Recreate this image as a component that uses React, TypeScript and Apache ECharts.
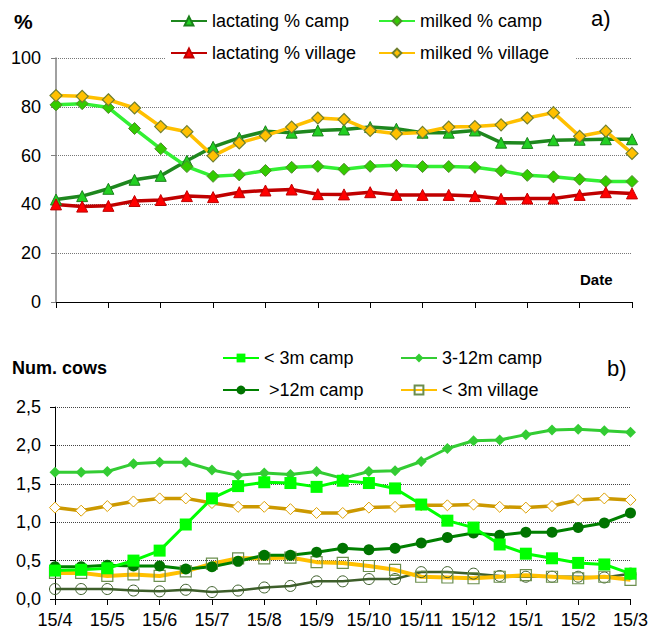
import React, { useEffect, useRef } from "react";
import * as echarts from "echarts";

const dates = [
  "15/4", "30/4", "15/5", "30/5", "15/6", "30/6", "15/7", "30/7", "15/8", "30/8", "15/9", "30/9",
  "15/10", "30/10", "15/11", "30/11", "15/12", "30/12", "15/1", "30/1", "15/2", "28/2", "15/3",
];

// Panel a) — percentages
const lactatingCamp = [42.0, 43.4, 46.4, 50.1, 51.7, 57.9, 63.6, 67.3, 70.0, 69.4, 70.3, 70.7, 71.7, 71.0, 69.4, 69.4, 70.3, 65.3, 65.2, 66.3, 66.5, 66.7, 66.7];
const milkedCamp = [80.8, 81.3, 79.7, 71.1, 62.8, 55.5, 51.5, 52.1, 53.9, 55.2, 55.6, 54.4, 55.6, 56.0, 55.5, 55.5, 55.2, 53.8, 51.9, 51.3, 50.3, 49.4, 49.4];
const lactatingVillage = [40.0, 39.1, 39.4, 41.4, 41.8, 43.4, 43.0, 45.0, 45.7, 46.1, 44.2, 44.1, 45.0, 43.9, 43.9, 43.9, 43.4, 42.3, 42.4, 42.4, 43.9, 45.0, 44.5];
const milkedVillage = [84.6, 84.3, 82.9, 79.5, 71.9, 69.8, 59.9, 65.2, 68.2, 71.7, 75.4, 74.8, 70.3, 69.0, 69.5, 71.7, 71.9, 72.6, 75.4, 77.6, 67.9, 70.0, 60.9];

// Panel b) — number of cows
const under3Camp = [0.37, 0.38, 0.40, 0.50, 0.63, 0.97, 1.31, 1.47, 1.52, 1.51, 1.46, 1.54, 1.51, 1.44, 1.23, 1.02, 0.93, 0.71, 0.59, 0.53, 0.47, 0.45, 0.33];
const m3to12Camp = [1.65, 1.65, 1.66, 1.76, 1.78, 1.78, 1.68, 1.61, 1.64, 1.62, 1.66, 1.57, 1.66, 1.67, 1.79, 1.96, 2.06, 2.07, 2.14, 2.20, 2.21, 2.19, 2.17];
const over12Camp = [0.42, 0.42, 0.44, 0.43, 0.43, 0.39, 0.42, 0.49, 0.57, 0.57, 0.61, 0.66, 0.64, 0.66, 0.73, 0.80, 0.86, 0.83, 0.87, 0.87, 0.93, 0.99, 1.12];
const under3Village = [0.34, 0.34, 0.30, 0.32, 0.30, 0.36, 0.46, 0.53, 0.53, 0.54, 0.48, 0.47, 0.43, 0.38, 0.29, 0.28, 0.27, 0.29, 0.31, 0.29, 0.27, 0.29, 0.25];
const m3to12Village = [1.19, 1.15, 1.21, 1.27, 1.31, 1.31, 1.25, 1.20, 1.20, 1.17, 1.12, 1.12, 1.19, 1.20, 1.22, 1.22, 1.23, 1.20, 1.19, 1.21, 1.29, 1.31, 1.29];
const over12Village = [0.13, 0.13, 0.13, 0.11, 0.10, 0.12, 0.09, 0.11, 0.15, 0.17, 0.23, 0.23, 0.26, 0.26, 0.35, 0.35, 0.33, 0.30, 0.29, 0.29, 0.29, 0.28, 0.33];

const FONT = "Liberation Sans";

export default function App() {
  const ref = useRef<HTMLDivElement>(null);
  useEffect(() => {
    document.body.style.margin = "0";
    const chart = echarts.init(ref.current!, null, { renderer: "svg" });
    const mkLegend = (name: string, left: number, top: number, extra: any = {}) => ({
      orient: "horizontal",
      itemWidth: 36,
      itemHeight: 11,
      itemGap: 0,
      left,
      top,
      padding: [2, 5, 2, 5],
      textStyle: { fontFamily: FONT, fontSize: 18, color: "#000" },
      selectedMode: false,
      data: [name],
      ...extra,
    });
    const xAxisCommon = (gridIndex: number, showLabels: boolean) => ({
      type: "category" as const,
      gridIndex,
      data: dates,
      boundaryGap: false,
      axisLine: { lineStyle: { color: "#000", width: 1 } },
      axisTick: { show: true, interval: 1, length: 6, lineStyle: { color: "#000" } },
      axisLabel: {
        show: showLabels,
        interval: 1,
        fontFamily: FONT,
        fontSize: 18,
        color: "#000",
        margin: 12,
      },
      splitLine: { show: false },
    });
    const option: any = {
      animation: false,
      backgroundColor: "#fff",
      textStyle: { fontFamily: FONT },
      grid: [
        { left: 56, right: 19, top: 58, height: 244 },
        { left: 55, right: 19, top: 407, height: 192 },
      ],
      xAxis: [xAxisCommon(0, false), xAxisCommon(1, true)],
      yAxis: [
        {
          type: "value",
          gridIndex: 0,
          min: 0,
          max: 100,
          interval: 20,
          axisLine: { show: true, lineStyle: { color: "#808080", width: 1.5 } },
          axisTick: { show: true, length: 5, lineStyle: { color: "#808080" } },
          axisLabel: { fontFamily: FONT, fontSize: 18, color: "#000", margin: 15 },
          splitLine: { show: true, lineStyle: { color: "#777", type: "dotted", width: 1 } },
        },
        {
          type: "value",
          gridIndex: 1,
          min: 0,
          max: 2.5,
          interval: 0.5,
          axisLine: { show: true, lineStyle: { color: "#000", width: 1 } },
          axisTick: { show: true, length: 5, lineStyle: { color: "#000" } },
          axisLabel: {
            fontFamily: FONT,
            fontSize: 18,
            color: "#000",
            margin: 14,
            formatter: (v: number) => v.toFixed(1).replace(".", ","),
          },
          splitLine: { show: true, lineStyle: { color: "#444", type: "dotted", width: 1 } },
        },
      ],
      legend: [
        mkLegend("lactating % camp", 165, 10),
        mkLegend("milked % camp", 373, 10),
        mkLegend("lactating % village", 165, 42, { backgroundColor: "#fff", padding: [2, 30, 2, 5] }),
        mkLegend("milked % village", 373, 42, { backgroundColor: "#fff", padding: [2, 27, 2, 5] }),
        mkLegend("< 3m camp", 217, 347),
        mkLegend("3-12m camp", 395, 347),
        mkLegend(" >12m camp", 217, 379),
        mkLegend("< 3m village", 395, 379),
      ],
      graphic: [
        { type: "text", left: 14, top: 11, style: { text: "%", font: `bold 21px "${FONT}"`, fill: "#000" } },
        { type: "text", left: 591, top: 7, style: { text: "a)", font: `22px "${FONT}"`, fill: "#000" } },
        { type: "text", left: 580, top: 272, style: { text: "Date", font: `bold 15px "${FONT}"`, fill: "#000" } },
        { type: "text", left: 12, top: 359, style: { text: "Num. cows", font: `bold 18px "${FONT}"`, fill: "#000" } },
        { type: "text", left: 607, top: 357, style: { text: "b)", font: `22px "${FONT}"`, fill: "#000" } },
      ],
      series: [
        {
          name: "lactating % camp",
          type: "line",
          xAxisIndex: 0,
          yAxisIndex: 0,
          data: lactatingCamp,
          symbol: "triangle",
          symbolSize: 11,
          lineStyle: { color: "#1E871E", width: 3.5 },
          itemStyle: { color: "#22D022", borderColor: "#1A7F1A", borderWidth: 1 },
        },
        {
          name: "milked % camp",
          type: "line",
          xAxisIndex: 0,
          yAxisIndex: 0,
          data: milkedCamp,
          symbol: "diamond",
          symbolSize: 12,
          lineStyle: { color: "#33F033", width: 3.5 },
          itemStyle: { color: "#33CC00", borderColor: "#4F8A2B", borderWidth: 1 },
        },
        {
          name: "lactating % village",
          type: "line",
          xAxisIndex: 0,
          yAxisIndex: 0,
          data: lactatingVillage,
          symbol: "triangle",
          symbolSize: 11,
          lineStyle: { color: "#C00000", width: 3.5 },
          itemStyle: { color: "#FF0000", borderColor: "#C00000", borderWidth: 1 },
        },
        {
          name: "milked % village",
          type: "line",
          xAxisIndex: 0,
          yAxisIndex: 0,
          data: milkedVillage,
          symbol: "diamond",
          symbolSize: 12,
          lineStyle: { color: "#FFC000", width: 3.5 },
          itemStyle: { color: "#FFC000", borderColor: "#6F7F2F", borderWidth: 1.2 },
        },
        {
          name: "3-12m village",
          type: "line",
          xAxisIndex: 1,
          yAxisIndex: 1,
          data: m3to12Village,
          symbol: "diamond",
          symbolSize: 11,
          lineStyle: { color: "#CC9900", width: 3.5 },
          itemStyle: { color: "#fff", borderColor: "#DDA000", borderWidth: 1 },
        },
        {
          name: ">12m village",
          type: "line",
          xAxisIndex: 1,
          yAxisIndex: 1,
          data: over12Village,
          symbol: "circle",
          symbolSize: 11,
          lineStyle: { color: "#3D5E2A", width: 2.5 },
          itemStyle: { color: "rgba(255,255,255,0)", borderColor: "#3D5E2A", borderWidth: 1 },
        },
        {
          name: "< 3m village",
          type: "line",
          xAxisIndex: 1,
          yAxisIndex: 1,
          data: under3Village,
          symbol: "rect",
          symbolSize: 11,
          lineStyle: { color: "#FFC000", width: 4 },
          itemStyle: { color: "rgba(255,255,255,0)", borderColor: "#6B8E4E", borderWidth: 1.2 },
        },
        {
          name: " >12m camp",
          type: "line",
          xAxisIndex: 1,
          yAxisIndex: 1,
          data: over12Camp,
          symbol: "circle",
          symbolSize: 11,
          lineStyle: { color: "#008000", width: 3 },
          itemStyle: { color: "#007300" },
        },
        {
          name: "3-12m camp",
          type: "line",
          xAxisIndex: 1,
          yAxisIndex: 1,
          data: m3to12Camp,
          symbol: "diamond",
          symbolSize: 11,
          lineStyle: { color: "#33CC33", width: 3 },
          itemStyle: { color: "#33CC33" },
        },
        {
          name: "< 3m camp",
          type: "line",
          xAxisIndex: 1,
          yAxisIndex: 1,
          data: under3Camp,
          symbol: "rect",
          symbolSize: 12,
          lineStyle: { color: "#00FF00", width: 3 },
          itemStyle: { color: "#00FF00" },
        },
      ],
    };
    chart.setOption(option);
    return () => chart.dispose();
  }, []);
  return <div ref={ref} style={{ width: 651, height: 639 }} />;
}
